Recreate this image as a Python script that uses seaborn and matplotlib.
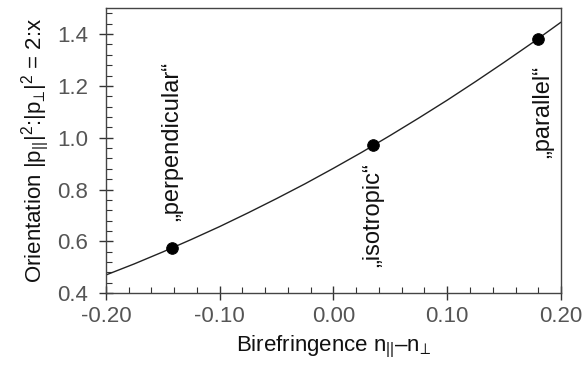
import matplotlib
matplotlib.use('Agg')
import matplotlib.pyplot as plt
import seaborn as sns
import pandas as pd
from matplotlib.ticker import MultipleLocator

# curve
curve_x = [-0.200, -0.175, -0.150, -0.125, -0.100, -0.075, -0.050, -0.025, 0.000,
           0.025, 0.050, 0.075, 0.100, 0.125, 0.150, 0.175, 0.200]
curve_y = [0.470, 0.513, 0.559, 0.607, 0.657, 0.710, 0.765, 0.822, 0.882,
           0.944, 1.009, 1.076, 1.145, 1.217, 1.291, 1.367, 1.446]

# marked states
point_x = [-0.142, 0.035, 0.180]
point_y = [0.575, 0.972, 1.382]
point_labels = ['\u201eperpendicular\u201c', '\u201eisotropic\u201c', '\u201eparallel\u201c']
label_y = [0.985, 0.70, 1.10]
label_x = [-0.142, 0.035, 0.184]

x_ticks = [-0.20, -0.10, 0.00, 0.10, 0.20]
y_ticks = [0.4, 0.6, 0.8, 1.0, 1.2, 1.4]

sns.set_style('ticks')
plt.rcParams['font.family'] = ['Liberation Sans', 'DejaVu Sans']
plt.rcParams['mathtext.fontset'] = 'custom'
plt.rcParams['mathtext.rm'] = 'Liberation Sans'
plt.rcParams['mathtext.it'] = 'Liberation Sans'

curve_df = pd.DataFrame({'x': curve_x, 'y': curve_y})
pts_df = pd.DataFrame({'x': point_x, 'y': point_y})

fig, ax = plt.subplots(figsize=(5.85, 3.72), dpi=100)
fig.subplots_adjust(left=0.181, right=0.959, top=0.978, bottom=0.212)

sns.lineplot(data=curve_df, x='x', y='y', ax=ax, color='#222222', linewidth=1.0)
sns.scatterplot(data=pts_df, x='x', y='y', ax=ax, color='black', s=70,
                edgecolor='black', zorder=5)

for lx, ly, t in zip(label_x, label_y, point_labels):
    ax.text(lx, ly, t, rotation=90, ha='center', va='center',
            fontsize=17, color='#111111')

ax.set_xlim(-0.2, 0.2)
ax.set_ylim(0.4, 1.5)
ax.set_xticks(x_ticks)
ax.set_xticklabels([f'{v:.2f}' for v in x_ticks])
ax.set_yticks(y_ticks)
ax.set_yticklabels([f'{v:.1f}' for v in y_ticks])
ax.xaxis.set_minor_locator(MultipleLocator(0.02))
ax.yaxis.set_minor_locator(MultipleLocator(0.04))

ax.tick_params(which='major', direction='inout', length=10, width=1.0,
               labelsize=16, labelcolor='#555555', color='#333333')
ax.tick_params(axis='x', which='major', pad=4)
ax.tick_params(axis='y', which='major', pad=8)
ax.tick_params(which='minor', direction='in', length=4, width=0.8, color='#333333')

for s in ax.spines.values():
    s.set_color('#444444')
    s.set_linewidth(1.0)

ax.set_xlabel('Birefringence n$_{||}$\u2013n$_{\u22a5}$', fontsize=16, color='#111111',
              labelpad=5)
ax.set_ylabel('Orientation |p$_{||}$|$^2$:|p$_{\u22a5}$|$^2$ = 2:x', fontsize=16,
              color='#111111', labelpad=4)

fig.savefig('out.png', dpi=100)
